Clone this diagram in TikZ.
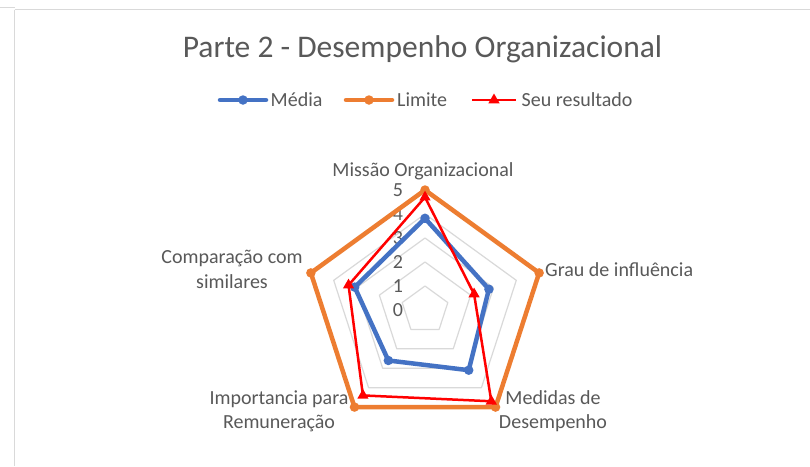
\documentclass[tikz,border=0pt]{standalone}
\usepackage{fontspec}
\setmainfont{Carlito}
\usetikzlibrary{calc,shapes.geometric}
\definecolor{serblue}{HTML}{4472C4}
\definecolor{serorange}{HTML}{ED7D31}
\definecolor{serred}{HTML}{FF0000}
\definecolor{gridgray}{HTML}{D9D9D9}
\definecolor{txtgray}{HTML}{595959}
\begin{document}
\begin{tikzpicture}[x=1pt,y=-1pt,
  lbl/.style={inner sep=0pt, align=center, text=txtgray, font=\fontsize{20}{24.5}\selectfont, anchor=base},
  num/.style={inner sep=0pt, text=txtgray, font=\fontsize{20}{24}\selectfont},
  gridln/.style={gridgray, line width=1.2pt, line join=round},
  bline/.style={serblue, line width=4.5pt, line join=round, line cap=round},
  oline/.style={serorange, line width=4.5pt, line join=round, line cap=round},
  rline/.style={serred, line width=2.5pt, line join=miter},
  bdot/.style={circle, fill=serblue, minimum size=9.5pt, inner sep=0pt},
  odot/.style={circle, fill=serorange, minimum size=9.5pt, inner sep=0pt},
  rtri/.style={regular polygon, regular polygon sides=3, fill=serred, minimum size=13pt, inner sep=0pt},
  framel/.style={gridgray, line width=1.5pt}]
\useasboundingbox[fill=white] (0,0) rectangle (810,466);
% frame
\coordinate (f0) at (0,7.5);
\coordinate (f1) at (14.5,7.5);
\coordinate (f2) at (14.5,466);
\coordinate (f3) at (14.5,9.5);
\coordinate (f4) at (810,9.5);
\draw[framel] (f0) -- (f1);
\draw[framel] (f3) -- (f2);
\draw[framel] (f3) -- (f4);
% centre
\coordinate (C) at (425,310);
% grid
\foreach \v in {1,...,5}{
  \draw[gridln] ($(C)+(-90:\v*24)$) -- ($(C)+(-18:\v*24)$) -- ($(C)+(54:\v*24)$) -- ($(C)+(126:\v*24)$) -- ($(C)+(198:\v*24)$) -- cycle;
}
% axis numbers
\foreach \v in {0,...,5}{
  \node[num] (n\v) at (398,310-\v*24) {\v};
}
% title
\node[inner sep=0pt, anchor=base, text=txtgray, font=\fontsize{31.5}{36}\selectfont] (title) at (422.5,57) {Parte 2 - Desempenho Organizacional};
% axis labels
\node[lbl] (lab0) at (423,176) {Missão Organizacional};
\node[lbl, anchor=base west] (lab1) at (545,276) {Grau de influência};
\node[lbl] (lab2) at (553,428.5) {Medidas de\\Desempenho};
\node[lbl] (lab3) at (279,428.5) {Importancia para\\Remuneração};
\node[lbl] (lab4) at (232,288) {Comparação com\\similares};
% Média
\coordinate (b0) at ($(C)+(-90:3.82*24)$);
\coordinate (b1) at ($(C)+(-18:2.8*24)$);
\coordinate (b2) at ($(C)+(54:3.1*24)$);
\coordinate (b3) at ($(C)+(126:2.6*24)$);
\coordinate (b4) at ($(C)+(198:3.08*24)$);
\draw[bline] (b0) -- (b1) -- (b2) -- (b3) -- (b4) -- cycle;
\foreach \i in {0,...,4}{ \node[bdot] (bm\i) at (b\i) {}; }
% Limite
\coordinate (o0) at ($(C)+(-90:120)$);
\coordinate (o1) at ($(C)+(-18:120)$);
\coordinate (o2) at ($(C)+(54:120)$);
\coordinate (o3) at ($(C)+(126:120)$);
\coordinate (o4) at ($(C)+(198:120)$);
\draw[oline] (o0) -- (o1) -- (o2) -- (o3) -- (o4) -- cycle;
\foreach \i in {0,...,4}{ \node[odot] (om\i) at (o\i) {}; }
% Seu resultado
\coordinate (r0) at ($(C)+(-90:4.7*24)$);
\coordinate (r1) at ($(C)+(-18:2.15*24)$);
\coordinate (r2) at ($(C)+(54:4.7*24)$);
\coordinate (r3) at ($(C)+(126:4.4*24)$);
\coordinate (r4) at ($(C)+(198:3.35*24)$);
\draw[rline] (r0) -- (r1) -- (r2) -- (r3) -- (r4) -- cycle;
\foreach \i in {0,...,4}{ \node[rtri] (rm\i) at (r\i) {}; }
% legend
\coordinate (lb0) at (220,100); \coordinate (lb1) at (266,100);
\draw[bline] (lb0) -- (lb1);
\node[bdot] (lbm) at (243,100) {};
\node[lbl, anchor=base west] (lbt) at (270.5,106) {Média};
\coordinate (lo0) at (346,100); \coordinate (lo1) at (392,100);
\draw[oline] (lo0) -- (lo1);
\node[odot] (lom) at (369,100) {};
\node[lbl, anchor=base west] (lot) at (397,106) {Limite};
\coordinate (lr0) at (472,100); \coordinate (lr1) at (516,100);
\draw[rline] (lr0) -- (lr1);
\node[rtri] (lrm) at (494,100) {};
\node[lbl, anchor=base west] (lrt) at (521.5,106) {Seu resultado};
\end{tikzpicture}
\end{document}
